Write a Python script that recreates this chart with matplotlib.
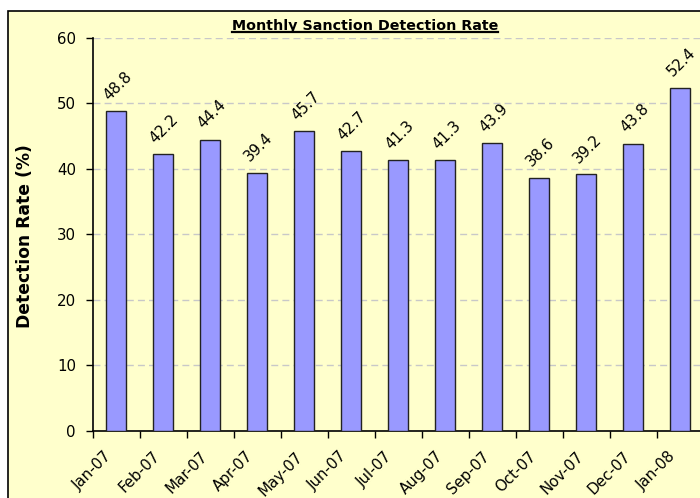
import matplotlib
matplotlib.use("Agg")
import matplotlib.pyplot as plt
from matplotlib.patches import Rectangle
from matplotlib.lines import Line2D
import numpy as np

months = ["Jan-07", "Feb-07", "Mar-07", "Apr-07", "May-07", "Jun-07", "Jul-07",
          "Aug-07", "Sep-07", "Oct-07", "Nov-07", "Dec-07", "Jan-08"]
rates = [48.8, 42.2, 44.4, 39.4, 45.7, 42.7, 41.3, 41.3, 43.9, 38.6, 39.2, 43.8, 52.4]
yticks = [0, 10, 20, 30, 40, 50, 60]

W, H = 700, 498
fig = plt.figure(figsize=(W / 100, H / 100), dpi=100, facecolor="white")
bg = "#FFFFCC"
frame = Rectangle((8.3 / W, -0.05), 1.2, 1 - 11.3 / H + 0.05,
                  transform=fig.transFigure, facecolor=bg,
                  edgecolor="black", linewidth=1.2, zorder=-10)
fig.patches.append(frame)

left = 92.5 / W
bottom = (H - 430.7) / H
top = (H - 37.8) / H
width = 13 * 47 / W
ax = fig.add_axes([left, bottom, width, top - bottom])
ax.set_facecolor(bg)
ax.set_zorder(1)

x = np.arange(len(months))
ax.bar(x, rates, width=0.41, color="#9999FF", edgecolor="#222222", linewidth=1.0, zorder=3)

ax.set_xlim(-0.5, len(months) - 0.5)
ax.set_ylim(0, 60)
ax.set_yticks(yticks)
ax.set_yticklabels([str(v) for v in yticks], fontsize=10.8)
ax.yaxis.grid(True, linestyle=(0, (5, 3)), color="#C8C8C8", linewidth=1.0, zorder=1)
ax.set_axisbelow(True)

ax.set_xticks(np.arange(len(months)) - 0.5)
ax.set_xticklabels(months, rotation=45, ha="center", fontsize=10.8)
ax.tick_params(axis="x", length=5, width=1, pad=8)
ax.tick_params(axis="y", length=5, width=1, pad=7)

for s in ["top", "right"]:
    ax.spines[s].set_visible(False)
for s in ["left", "bottom"]:
    ax.spines[s].set_linewidth(1.2)

for xi, v in zip(x, rates):
    ax.annotate(f"{v}", (xi, v), xytext=(1, 6), textcoords="offset points",
                rotation=45, ha="center", va="bottom", fontsize=10.8)

fig.text(25 / W, 1 - 236 / H, "Detection Rate (%)", rotation=90, fontsize=12.3,
         fontweight="bold", ha="center", va="center")

title = fig.text(365 / W, 1 - 26 / H, "Monthly Sanction Detection Rate", fontsize=10.3,
                 fontweight="bold", ha="center", va="center")
fig.canvas.draw()
bb = title.get_window_extent()
uy = (bb.y0 + 0.5) / H
fig.lines.append(Line2D([bb.x0 / W, bb.x1 / W], [uy, uy], transform=fig.transFigure,
                        color="black", linewidth=1.6))

fig.savefig("out.png", dpi=100, facecolor="white")
